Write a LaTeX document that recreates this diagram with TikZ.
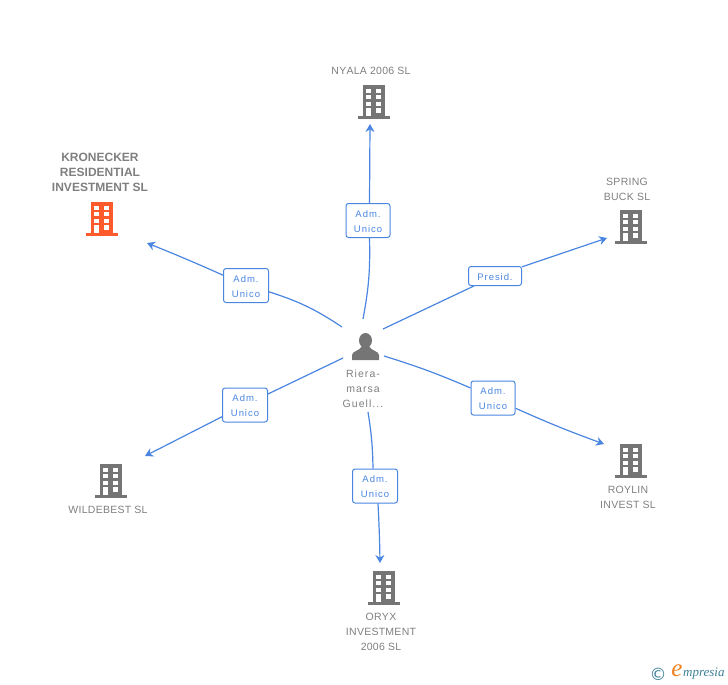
\documentclass[tikz,border=0pt]{standalone}
\usepackage{fontspec}
\setmainfont{Liberation Sans}
\newfontfamily\namefont[LetterSpace=2.5, Kerning=Off]{Liberation Sans}
\newfontfamily\rolefont[LetterSpace=10]{Liberation Sans}
\newfontfamily\markfont{DejaVu Sans}
\newfontfamily\logofont{Liberation Serif}
\usetikzlibrary{arrows.meta, positioning}
\definecolor{linkblue}{HTML}{4A86E0}
\definecolor{iconcol}{HTML}{757575}
\definecolor{textcol}{HTML}{7F7F7F}
\definecolor{mainorange}{HTML}{FF5A2B}
\definecolor{markteal}{HTML}{3E7F96}
\definecolor{markorange}{HTML}{F08020}

\begin{document}
\begin{tikzpicture}[
    x=1pt, y=-1pt,
    link/.style={
        linkblue,
        line width=1.2pt,
    },
    arrowlink/.style={
        link,
        -{Stealth[length=8pt, width=9pt]},
    },
    role/.style={
        draw=linkblue,
        line width=1pt,
        rounded corners=2.5pt,
        fill=white,
        text=linkblue,
        font=\rolefont\fontsize{9.5}{15}\selectfont,
        align=center,
        inner sep=0pt,
        text width=#1,
        text height=9pt,
        minimum height=34pt,
    },
    role/.default=44pt,
    company/.style={
        text=textcol,
        font=\namefont\fontsize{10.5}{15}\selectfont,
        align=center,
        inner sep=0pt,
    },
    mainname/.style={
        text=textcol,
        font=\bfseries\fontsize{12}{15}\selectfont,
        align=center,
        inner sep=0pt,
    },
    building/.pic={
        \fill[pic actions] (-11,-17) rectangle (11,15);
        \fill[pic actions] (-16,14) rectangle (16,17);
        \foreach \wy in {-13,-7,0} {
            \fill[white] (-8,\wy) rectangle (-3,\wy+4);
            \fill[white] (2,\wy) rectangle (7,\wy+4);
        }
        \fill[white] (-8,6) rectangle (-3,14);
        \fill[white] (2,6) rectangle (7,11);
    },
]
    \useasboundingbox (0,0) rectangle (728,685);

    % Buildings
    \pic[fill=iconcol] (nyala) at (374,102) {building};
    \pic[fill=mainorange] (kronecker) at (102,219) {building};
    \pic[fill=iconcol] (spring) at (631,227) {building};
    \pic[fill=iconcol] (roylin) at (631,461) {building};
    \pic[fill=iconcol] (oryx) at (384,588) {building};
    \pic[fill=iconcol] (wildebest) at (111,481) {building};

    % Person
    \fill[iconcol] (365.5,340.5) circle[x radius=6.5, y radius=7.5];
    \fill[iconcol] (352,360) -- (352,355) .. controls (352,351) and (360,351) .. (362,346)
        -- (369,346) .. controls (371,351) and (379,351) .. (379,355) -- (379,360) -- cycle;

    % Company names
    \node[company] (nyalaname) at (371,71) {NYALA 2006 SL};
    \node[mainname] (kroneckername) at (100,172.5) {KRONECKER\\RESIDENTIAL\\INVESTMENT SL};
    \node[company] (springname) at (627,189) {SPRING\\BUCK SL};
    \node[company] (roylinname) at (628,497.5) {ROYLIN\\INVEST SL};
    \node[company] (oryxname) at (381,632) {ORYX\\INVESTMENT\\2006 SL};
    \node[company] (wildebestname) at (108,510) {WILDEBEST SL};
    \node[company, font=\rolefont\fontsize{10.5}{15}\selectfont] (personname) at (363,388.5) {Riera-\\marsa\\Guell...};

    % Role boxes
    \node[role] (rolenyala) at (368,220.5) {Adm.\\Unico};
    \node[role=45pt] (rolekronecker) at (246,285.5) {Adm.\\Unico};
    \node[role=53pt, minimum height=19pt] (rolespring) at (495,276) {Presid.};
    \node[role] (roleroylin) at (493,398) {Adm.\\Unico};
    \node[role=45pt] (roleoryx) at (375,486) {Adm.\\Unico};
    \node[role=45pt] (rolewildebest) at (245,405) {Adm.\\Unico};

    % Link ends
    \coordinate (fromnyala) at (363,319);
    \coordinate (fromkronecker) at (342,327);
    \coordinate (fromspring) at (383,329);
    \coordinate (fromroylin) at (384,356);
    \coordinate (fromoryx) at (368,412);
    \coordinate (fromwildebest) at (343,358);
    \coordinate (tonyala) at (370,124);
    \coordinate (tokronecker) at (147,243);
    \coordinate (tospring) at (607,238);
    \coordinate (toroylin) at (604,444);
    \coordinate (tooryx) at (380,563);
    \coordinate (towildebest) at (145,456);

    % Links
    \draw[link] (fromnyala) to[bend right=6] ([xshift=1.5pt]rolenyala.south);
    \draw[arrowlink] ([xshift=1.5pt]rolenyala.north) -- (tonyala);
    \draw[link] (fromkronecker) to[bend left=-8] (rolekronecker);
    \draw[arrowlink] (rolekronecker) to[bend left=-1] (tokronecker);
    \draw[link] (fromspring) -- (rolespring);
    \draw[arrowlink] (rolespring) -- (tospring);
    \draw[link] (fromroylin) to[bend left=3] (roleroylin);
    \draw[arrowlink] (roleroylin) to[bend left=-2] (toroylin);
    \draw[link] (fromoryx) to[bend left=4] ([xshift=-2pt]roleoryx.north);
    \draw[arrowlink] ([xshift=3pt]roleoryx.south) to[bend left=1] (tooryx);
    \draw[link] (fromwildebest) -- (rolewildebest);
    \draw[arrowlink] (rolewildebest) -- (towildebest);

    % Copyright mark
    \node[text=markteal, font=\markfont\fontsize{17}{17}\selectfont, inner sep=0pt] (markc) at (658,674) {©};
    \node[text=markorange, font=\logofont\itshape\fontsize{25}{25}\selectfont, inner sep=0pt] (marke) at (677,671) {e};
    \node[text=markteal, font=\logofont\itshape\fontsize{13}{14}\selectfont, inner sep=0pt, anchor=west] (markname) at (683,674) {mpresia};
\end{tikzpicture}
\end{document}
